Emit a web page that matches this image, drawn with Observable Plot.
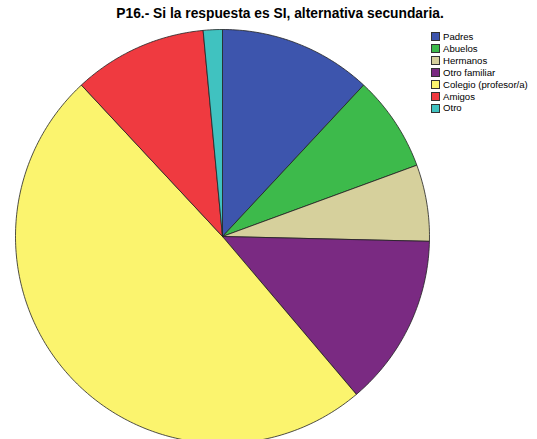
<!DOCTYPE html>
<html><head><meta charset="utf-8">
<script src="https://cdn.jsdelivr.net/npm/d3@7"></script>
<script src="https://cdn.jsdelivr.net/npm/@observablehq/plot@0.6"></script>
<style>
body{margin:0;background:#fff;font-family:"Liberation Sans",Arial,sans-serif;}
#wrap{position:relative;width:537px;height:439px;overflow:hidden;}
#title{position:absolute;left:0;width:560px;top:6px;text-align:center;font-weight:bold;font-size:13.8px;color:#000;}
#legend{position:absolute;left:431px;top:31px;font-size:9.6px;line-height:11.9px;}
#legend div{display:flex;align-items:center;white-space:nowrap;}
#legend span.sw{display:inline-block;width:7px;height:7px;border:1px solid #333;margin-right:3px;}
</style></head>
<body><div id="wrap"><div id="title">P16.- Si la respuesta es SI, alternativa secundaria.</div><div id="legend"></div></div>
<script>
const categories = ["Padres","Abuelos","Hermanos","Otro familiar","Colegio (profesor/a)","Amigos","Otro"];
const counts = [8,5,4,9,33,7,1];
const colors = ["#3d55ad","#3dba4b","#d6d09c","#7a2a82","#fbf46e","#ef3a40","#40c2c0"];

const pie = d3.pie().sort(null).value(d => d.count);
const arcs = pie(categories.map((c,i)=>({category:c,count:counts[i]})));
const pts = [];
for (const a of arcs) {
  const n = Math.max(4, Math.ceil((a.endAngle - a.startAngle) * 60));
  pts.push({category:a.data.category, x:0, y:0});
  for (let k=0;k<=n;k++){
    const t = a.startAngle + (a.endAngle - a.startAngle)*k/n;
    pts.push({category:a.data.category, x:Math.sin(t), y:Math.cos(t)});
  }
  pts.push({category:a.data.category, x:0, y:0});
}
const chart = Plot.plot({
  width:537, height:439, margin:0,
  x:{domain:[-1,1], range:[15,429], axis:null},
  y:{domain:[-1,1], range:[443,29], axis:null},
  color:{domain:categories, range:colors},
  marks:[
    Plot.line(pts,{x:"x",y:"y",z:"category",fill:"category",stroke:"#222",strokeWidth:0.8,curve:"linear-closed"})
  ]
});
chart.style.position="absolute"; chart.style.left="0"; chart.style.top="0";
const wrap=document.getElementById("wrap");
wrap.insertBefore(chart, wrap.firstChild);
const lg=document.getElementById("legend");
categories.forEach((c,i)=>{const d=document.createElement("div");d.innerHTML=`<span class="sw" style="background:${colors[i]}"></span>${c}`;lg.appendChild(d);});
</script></body></html>
